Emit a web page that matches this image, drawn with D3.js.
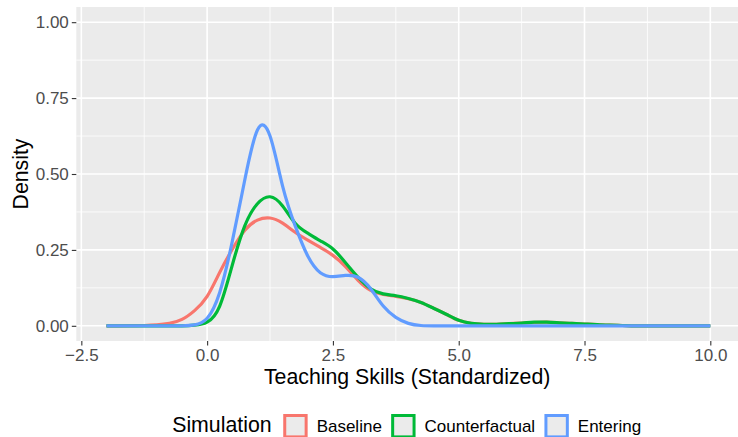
<!DOCTYPE html>
<html>
<head>
<meta charset="utf-8">
<script src="https://cdn.jsdelivr.net/npm/d3@7/dist/d3.min.js"></script>
<style>
html,body{margin:0;padding:0;background:#fff;}
svg{display:block;font-family:"Liberation Sans",Arial,Helvetica,sans-serif;}
</style>
</head>
<body>
<svg id="chart" width="738" height="437"></svg>
<script>
// ---- data ----
const xs = [-2,-1.75,-1.5,-1.25,-1,-0.75,-0.5,-0.25,0,0.25,0.5,0.75,1,1.25,1.5,1.75,2,2.25,2.5,2.75,3,3.25,3.5,3.75,4,4.25,4.5,4.75,5,5.25,5.5,5.75,6,6.25,6.5,6.75,7,7.25,7.5,7.75,8,8.25,8.5,8.75,9,9.25,9.5,9.75,10];
const baseline = [0,0,0.0005,0.001,0.003,0.008,0.021,0.05,0.097,0.176,0.252,0.315,0.348,0.355,0.338,0.308,0.282,0.258,0.232,0.195,0.15,0.117,0.103,0.097,0.089,0.077,0.058,0.038,0.018,0.008,0.005,0.005,0.007,0.009,0.011,0.012,0.01,0.008,0.006,0.004,0.002,0.001,0,0,0,0,0,0,0];
const counterfactual = [0,0,0,0,0,0,0,0.002,0.012,0.065,0.2,0.33,0.402,0.425,0.395,0.338,0.305,0.28,0.253,0.208,0.16,0.122,0.105,0.099,0.09,0.077,0.058,0.038,0.018,0.008,0.005,0.005,0.007,0.009,0.012,0.012,0.01,0.008,0.006,0.004,0.002,0.001,0,0,0,0,0,0,0];
const entering = [0,0,0,0,0,0,0,0.003,0.025,0.11,0.278,0.482,0.645,0.625,0.46,0.329,0.23,0.175,0.162,0.166,0.16,0.122,0.065,0.028,0.008,0.001,0,0,0,0,0,0,0,0,0,0,0,0,0,0,0,0,0,0,0,0,0,0,0];
const seriesNames = ["Baseline","Counterfactual","Entering"];
const seriesColors = ["#F8766D","#00BA38","#619CFF"];
const xTicks = [-2.5,0,2.5,5,7.5,10];
const xMinor = [-1.25,1.25,3.75,6.25,8.75];
const yTicks = [0,0.25,0.5,0.75,1];
const yMinor = [0.125,0.375,0.625,0.875];

const seriesData = [baseline, counterfactual, entering];

// ---- layout ----
const svg = d3.select("#chart");
const W = 738, H = 437;
const panel = {left: 76.3, top: 7, right: 740.5, bottom: 341};
const FONT = "Liberation Sans, Arial, sans-serif";

const x = d3.scaleLinear().domain([-2.6, 10.6]).range([panel.left, panel.right]);
const y = d3.scaleLinear().domain([-0.05, 1.05]).range([panel.bottom, panel.top]);

svg.append("rect").attr("x",0).attr("y",0).attr("width",W).attr("height",H).attr("fill","#fff");
svg.append("rect").attr("x",panel.left).attr("y",panel.top)
  .attr("width",panel.right-panel.left).attr("height",panel.bottom-panel.top)
  .attr("fill","#EBEBEB");

const grid = svg.append("g");
grid.selectAll(".xmin").data(xMinor).join("line").attr("class","xmin")
  .attr("x1",d=>x(d)).attr("x2",d=>x(d)).attr("y1",panel.top).attr("y2",panel.bottom)
  .attr("stroke","#fff").attr("stroke-width",0.8);
grid.selectAll(".ymin").data(yMinor).join("line").attr("class","ymin")
  .attr("y1",d=>y(d)).attr("y2",d=>y(d)).attr("x1",panel.left).attr("x2",panel.right)
  .attr("stroke","#fff").attr("stroke-width",0.8);
grid.selectAll(".xmaj").data(xTicks).join("line").attr("class","xmaj")
  .attr("x1",d=>x(d)).attr("x2",d=>x(d)).attr("y1",panel.top).attr("y2",panel.bottom)
  .attr("stroke","#fff").attr("stroke-width",1.6);
grid.selectAll(".ymaj").data(yTicks).join("line").attr("class","ymaj")
  .attr("y1",d=>y(d)).attr("y2",d=>y(d)).attr("x1",panel.left).attr("x2",panel.right)
  .attr("stroke","#fff").attr("stroke-width",1.6);

// axes
const fmt1 = d3.format(".1f");
const xAxis = d3.axisBottom(x).tickValues(xTicks).tickSize(4.5).tickPadding(3.5)
  .tickFormat(d => d < 0 ? "\u2212" + fmt1(-d) : fmt1(d));
const gx = svg.append("g").attr("transform",`translate(0,${panel.bottom})`).call(xAxis);
gx.select(".domain").remove();
gx.selectAll(".tick line").attr("stroke","#333").attr("stroke-width",1.1);
gx.selectAll(".tick text").attr("fill","#4D4D4D").style("font-size","17px").style("font-family",FONT);

const yAxis = d3.axisLeft(y).tickValues(yTicks).tickSize(4.5).tickPadding(3)
  .tickFormat(d3.format(".2f"));
const gy = svg.append("g").attr("transform",`translate(${panel.left},0)`).call(yAxis);
gy.select(".domain").remove();
gy.selectAll(".tick line").attr("stroke","#333").attr("stroke-width",1.1);
gy.selectAll(".tick text").attr("fill","#4D4D4D").style("font-size","17px").style("font-family",FONT);

// curves
const line = d3.line().x(d=>x(d[0])).y(d=>y(d[1])).curve(d3.curveNatural);
svg.append("clipPath").attr("id","pclip").append("rect")
  .attr("x",panel.left).attr("y",panel.top).attr("width",panel.right-panel.left).attr("height",panel.bottom-panel.top);
const curves = svg.append("g").attr("clip-path","url(#pclip)");
seriesData.forEach((vals,i)=>{
  curves.append("path")
    .datum(xs.map((xv,j)=>[xv, vals[j]]))
    .attr("d", line)
    .attr("fill","none")
    .attr("stroke", seriesColors[i])
    .attr("stroke-width", 3.2)
    .attr("stroke-linejoin","round")
    .attr("stroke-linecap","butt");
});

// axis titles
svg.append("text").attr("x", (panel.left + W)/2).attr("y", 384)
  .attr("text-anchor","middle").attr("fill","#000").style("font-size","21.3px").style("font-family",FONT)
  .text("Teaching Skills (Standardized)");
svg.append("text").attr("transform",`translate(27.5,${(panel.top+panel.bottom)/2}) rotate(-90)`)
  .attr("text-anchor","middle").attr("fill","#000").style("font-size","21.3px").style("font-family",FONT)
  .text("Density");

// legend
const lg = svg.append("g");
let cx = 172.2;
const title = lg.append("text").attr("x",cx).attr("y",432.4).attr("fill","#000")
  .style("font-size","21.3px").style("font-family",FONT).text("Simulation");
cx += title.node().getComputedTextLength() + 11.6;
seriesNames.forEach((nm,i)=>{
  lg.append("rect").attr("x",cx+1.5).attr("y",415.5).attr("width",21.4).attr("height",21.4)
    .attr("fill","#EBEBEB").attr("stroke",seriesColors[i]).attr("stroke-width",3);
  cx += 24.4 + 9;
  const t = lg.append("text").attr("x",cx).attr("y",431.8).attr("fill","#000")
    .style("font-size","17px").style("font-family",FONT).text(nm);
  cx += t.node().getComputedTextLength() + 9.3;
});
</script>
</body>
</html>
